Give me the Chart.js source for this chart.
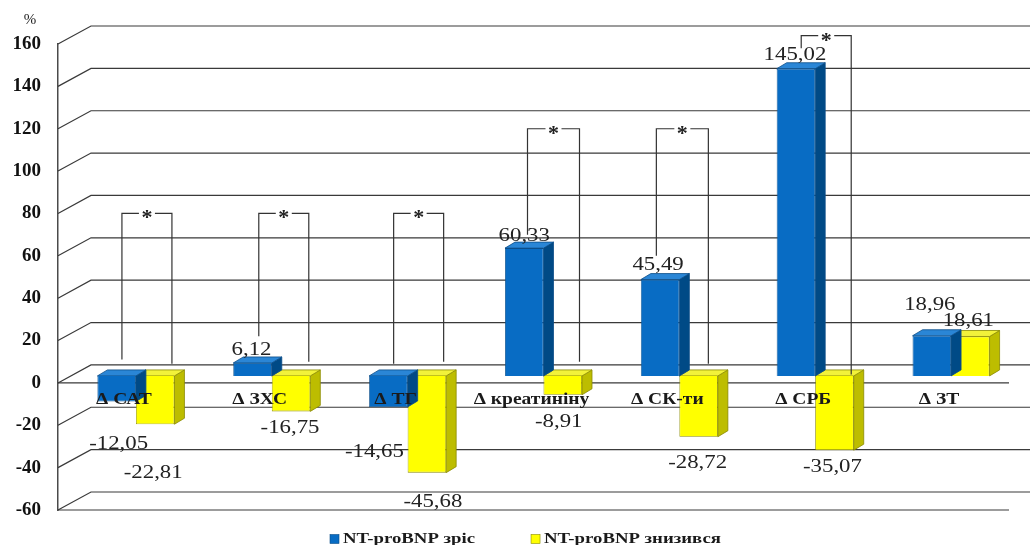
<!DOCTYPE html>
<html>
<head>
<meta charset="utf-8">
<script src="https://cdn.jsdelivr.net/npm/chart.js@4.4.1/dist/chart.umd.min.js"></script>
<style>
  html, body { margin: 0; padding: 0; background: #fff; }
  canvas { display: block; }
</style>
</head>
<body>
<canvas id="deltaChart" width="1030" height="545"></canvas>
<script>
// data (%)
const categories = ["Δ САТ", "Δ ЗХС", "Δ ТГ", "Δ креатиніну", "Δ СК-ти", "Δ СРБ", "Δ ЗТ"];
const seriesNames = ["NT-proBNP зріс", "NT-proBNP знизився"];
const roseValues = [-12.05, 6.12, -14.65, 60.33, 45.49, 145.02, 18.96];
const fellValues = [-22.81, -16.75, -45.68, -8.91, -28.72, -35.07, 18.61];
const yMin = -60, yMax = 160, yStep = 20;

// significance brackets: category index, top and leg ends in axis units
const significance = [
  { cat: 0, top: 80, leftEnd: 11, rightEnd: 9 },
  { cat: 1, top: 80, leftEnd: 22, rightEnd: 10 },
  { cat: 2, top: 80, leftEnd: 9, rightEnd: 10 },
  { cat: 3, top: 120, leftEnd: 70, rightEnd: 10 },
  { cat: 4, top: 120, leftEnd: 60, rightEnd: 9 },
  { cat: 5, top: 164, leftEnd: 158, rightEnd: 4 }
];

// look
const SERIF = "'Liberation Serif', 'Times New Roman', serif";
const STRETCH = 1.2;                     // the source picture is a bit wide
const wallDepth = { dx: 33, dy: -18 };
const barShift = { dx: 10, dy: -7 };
const barDepth = { dx: 10, dy: -6 };
const faces = [
  { front: "#086cc4", side: "#004a86", top: "#2a86d6", edge: "#0b4d88" },
  { front: "#ffff00", side: "#bdbd00", top: "#f2f23a", edge: "#8a8a00" }
];
// label nudges (px) from the end of each bar
const labelNudge = [
  { dx: [2, -1, -14, 0, -2, -1, -2], dy: [43, -13, 45, -12, -15, -14, -31] },
  { dx: [-2, -1, 6, -4, -1, -2, -2], dy: [49, 17, 29, 27, 26, 17, -15] }
];
const bracketLegs = [[-4, 46], [-3, 47], [-4, 46], [-6, 46], [-13, 39], [-4, 46]];

function fmt(v) {
  return v.toFixed(2).replace(".", ",");
}

function wideText(ctx, text, x, y, sx) {
  ctx.save();
  ctx.translate(x, y);
  ctx.scale(sx, 1);
  ctx.fillText(text, 0, 0);
  ctx.restore();
}

function poly(ctx, pts, fill, stroke) {
  ctx.beginPath();
  ctx.moveTo(pts[0][0], pts[0][1]);
  for (let i = 1; i < pts.length; i++) ctx.lineTo(pts[i][0], pts[i][1]);
  ctx.closePath();
  ctx.fillStyle = fill;
  ctx.fill();
  ctx.strokeStyle = stroke;
  ctx.lineWidth = 0.8;
  ctx.stroke();
}

const box3d = {
  id: "box3d",
  beforeDatasetsDraw(chart) {
    const { ctx, chartArea: a, scales: { y } } = chart;
    ctx.save();
    ctx.strokeStyle = "#3a3a3a";
    ctx.lineWidth = 1.2;
    y.ticks.forEach(t => {
      const py = y.getPixelForValue(t.value);
      ctx.beginPath();
      ctx.moveTo(a.left, py);
      ctx.lineTo(a.left + wallDepth.dx, py + wallDepth.dy);
      ctx.lineTo(chart.width, py + wallDepth.dy);
      ctx.stroke();
    });
    [yMin, 0].forEach(v => {
      const py = y.getPixelForValue(v);
      ctx.beginPath();
      ctx.moveTo(a.left, py);
      ctx.lineTo(a.right, py);
      ctx.stroke();
    });
    ctx.restore();
    // bars sit a little behind the front plane
    ctx.save();
    ctx.translate(barShift.dx, barShift.dy);
  },
  beforeDatasetDraw(chart, args) {
    const ctx = chart.ctx;
    const f = faces[args.index];
    args.meta.data.forEach(el => {
      const p = el.getProps(["x", "y", "base", "width"], true);
      const x0 = p.x - p.width / 2, x1 = p.x + p.width / 2;
      const top = Math.min(p.y, p.base), bot = Math.max(p.y, p.base);
      poly(ctx, [[x1, top], [x1 + barDepth.dx, top + barDepth.dy], [x1 + barDepth.dx, bot + barDepth.dy], [x1, bot]], f.side, f.edge);
      poly(ctx, [[x0, top], [x0 + barDepth.dx, top + barDepth.dy], [x1 + barDepth.dx, top + barDepth.dy], [x1, top]], f.top, f.edge);
    });
  },
  afterDatasetsDraw(chart) {
    const { ctx, scales: { x, y } } = chart;
    ctx.restore();

    // value labels
    ctx.save();
    ctx.fillStyle = "#222";
    ctx.font = "19px " + SERIF;
    ctx.textAlign = "center";
    ctx.textBaseline = "middle";
    chart.data.datasets.forEach((ds, di) => {
      chart.getDatasetMeta(di).data.forEach((el, i) => {
        const p = el.getProps(["x", "y"], true);
        const lx = p.x + barShift.dx + labelNudge[di].dx[i];
        const ly = p.y + barShift.dy + labelNudge[di].dy[i];
        wideText(ctx, fmt(ds.data[i]), lx, ly, STRETCH);
      });
    });

    // category names just under the zero line
    ctx.font = "bold 16px " + SERIF;
    ctx.fillStyle = "#1a1a1a";
    const zy = y.getPixelForValue(0);
    categories.forEach((c, i) => {
      wideText(ctx, c, x.getPixelForValue(i) - 2, zy + 17, 1.22);
    });

    // significance brackets
    ctx.strokeStyle = "#333";
    ctx.lineWidth = 1.2;
    ctx.font = "bold 22px " + SERIF;
    significance.forEach((s, k) => {
      const cx = x.getPixelForValue(s.cat);
      const lx = cx + bracketLegs[k][0], rx = cx + bracketLegs[k][1];
      const ty = y.getPixelForValue(s.top);
      const mid = (lx + rx) / 2;
      ctx.beginPath();
      ctx.moveTo(lx, y.getPixelForValue(s.leftEnd));
      ctx.lineTo(lx, ty);
      ctx.lineTo(mid - 8, ty);
      ctx.moveTo(mid + 8, ty);
      ctx.lineTo(rx, ty);
      ctx.lineTo(rx, y.getPixelForValue(s.rightEnd));
      ctx.stroke();
      ctx.textBaseline = "alphabetic";
      ctx.fillStyle = "#222";
      ctx.fillText("*", mid, ty + 11);
    });

    // unit
    ctx.font = "15px " + SERIF;
    ctx.textAlign = "center";
    ctx.textBaseline = "middle";
    ctx.fillText("%", 30, 20);

    // legend
    ctx.font = "bold 15px " + SERIF;
    ctx.textAlign = "left";
    const sq = 9, gapIn = 4, gapOut = 56;
    const widths = seriesNames.map(n => ctx.measureText(n).width * 1.25);
    let lx = 330;
    const ly = 539;
    seriesNames.forEach((n, i) => {
      ctx.fillStyle = faces[i].front;
      ctx.fillRect(lx, ly - sq / 2, sq, sq);
      ctx.strokeStyle = faces[i].edge;
      ctx.lineWidth = 0.6;
      ctx.strokeRect(lx, ly - sq / 2, sq, sq);
      ctx.fillStyle = "#1a1a1a";
      wideText(ctx, n, lx + sq + gapIn, ly, 1.25);
      lx += sq + gapIn + widths[i] + gapOut;
    });
    ctx.restore();
  }
};

new Chart(document.getElementById("deltaChart"), {
  type: "bar",
  data: {
    labels: categories,
    datasets: [
      {
        label: seriesNames[0],
        data: roseValues,
        backgroundColor: faces[0].front,
        borderColor: faces[0].edge,
        borderWidth: 0.8,
        clip: false
      },
      {
        label: seriesNames[1],
        data: fellValues,
        backgroundColor: faces[1].front,
        borderColor: faces[1].edge,
        borderWidth: 0.8,
        clip: false
      }
    ]
  },
  options: {
    responsive: false,
    animation: false,
    layout: { padding: { left: 0, top: 44, right: 21, bottom: 35 } },
    datasets: { bar: { categoryPercentage: 0.567, barPercentage: 1.0 } },
    plugins: {
      legend: { display: false },
      tooltip: { enabled: false }
    },
    scales: {
      x: { display: false },
      y: {
        min: yMin,
        max: yMax,
        ticks: {
          stepSize: yStep,
          padding: 17,
          color: "#111",
          font: { family: SERIF, size: 19, weight: "bold" }
        },
        grid: { display: false, drawTicks: false },
        border: { display: true, color: "#4a4a4a", width: 1.5 },
        afterFit(scale) { scale.width = 58; }
      }
    }
  },
  plugins: [box3d]
});
</script>
</body>
</html>
